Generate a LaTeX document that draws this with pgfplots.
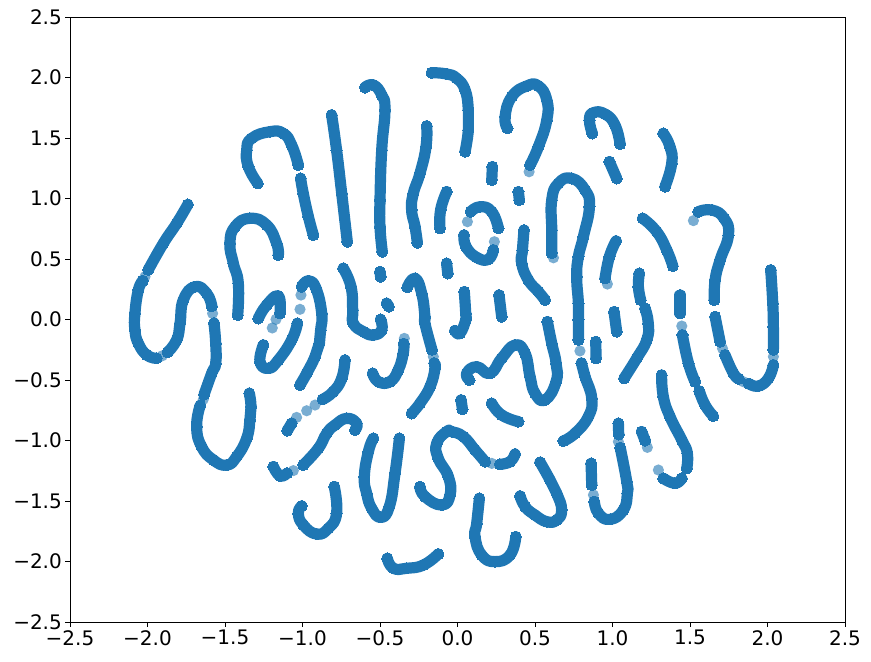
\documentclass[border=0pt]{standalone}
\usepackage{pgfplots}
\pgfplotsset{compat=1.18}
\usepackage{fontspec}
\setmainfont{DejaVu Sans}
\definecolor{c0}{HTML}{1F77B4}
\begin{document}
\begin{tikzpicture}
\begin{axis}[
  scale only axis, width=581.25pt, height=453.75pt,
  xmin=-2.5, xmax=2.5, ymin=-2.5, ymax=2.5,
  xtick={-2.5,-2,-1.5,-1,-0.5,0,0.5,1,1.5,2,2.5},
  ytick={-2.5,-2,-1.5,-1,-0.5,0,0.5,1,1.5,2,2.5},
  xticklabels={−2.5,−2.0,−1.5,−1.0,−0.5,0.0,0.5,1.0,1.5,2.0,2.5},
  yticklabels={−2.5,−2.0,−1.5,−1.0,−0.5,0.0,0.5,1.0,1.5,2.0,2.5},
  tick align=outside, tick pos=left, major tick length=3.6pt,
  tick style={black, line width=0.6pt}, axis line style={line width=0.6pt},
  ticklabel style={font=\fontsize{15}{15}\selectfont},
  xticklabel style={yshift=1pt}, yticklabel style={xshift=1pt},
  s/.style={color=c0, line width=8.4pt, line cap=round, line join=round, smooth, tension=0.85,
    mark=*, mark size=4.2pt, mark options={line width=0pt, draw=c0, fill=c0}},
  d/.style={only marks, mark=*, mark size=4.2pt, mark options={line width=0pt, draw opacity=0, fill=c0, fill opacity=0.6}},
]
% left side
\addplot[s] coordinates {(-1.74,0.95)(-1.812,0.794)(-1.898,0.629)(-1.995,0.41)};
\addplot[s] coordinates {(-2.03,0.32)(-2.059,0.244)(-2.081,0.051)(-2.081,-0.087)(-2.059,-0.197)(-2.005,-0.293)(-1.941,-0.321)};
\addplot[s] coordinates {(-1.87,-0.27)(-1.812,-0.169)(-1.79,-0.032)(-1.769,0.161)(-1.694,0.271)(-1.618,0.216)(-1.585,0.11)};
\addplot[s] coordinates {(-1.571,-0.03)(-1.56,-0.197)(-1.56,-0.362)(-1.586,-0.445)(-1.635,-0.62)};
\addplot[s] coordinates {(-1.66,-0.71)(-1.683,-0.886)(-1.651,-1.051)(-1.575,-1.161)(-1.489,-1.203)(-1.425,-1.134)(-1.36,-0.982)(-1.339,-0.83)(-1.332,-0.72)(-1.343,-0.61)};
\addplot[s] coordinates {(-1.156,0.533)(-1.167,0.629)(-1.231,0.781)(-1.339,0.836)(-1.435,0.767)(-1.468,0.629)(-1.446,0.464)(-1.414,0.299)(-1.418,0.037)};
\addplot[s] coordinates {(-1.289,1.125)(-1.349,1.263)(-1.36,1.40)(-1.328,1.497)(-1.21,1.552)(-1.124,1.538)(-1.07,1.442)(-1.027,1.277)};
\addplot[s] coordinates {(-1.012,1.166)(-0.995,1.042)(-0.962,0.85)(-0.93,0.698)};
\addplot[s] coordinates {(-0.812,1.69)(-0.78,1.40)(-0.747,1.042)(-0.711,0.643)};
\addplot[s] coordinates {(-0.597,1.918)(-0.543,1.938)(-0.489,1.855)(-0.468,1.731)(-0.489,1.40)(-0.5,0.987)(-0.5,0.767)(-0.485,0.56)};
\addplot[s] coordinates {(-0.199,1.599)(-0.203,1.428)(-0.242,1.208)(-0.285,1.042)(-0.296,0.905)(-0.274,0.767)(-0.259,0.635)};
\addplot[s] coordinates {(-0.07,1.056)(-0.109,0.905)(-0.113,0.753)};
\addplot[s] coordinates {(-0.167,2.04)(-0.07,2.029)(-0.005,1.993)(0.049,1.896)(0.07,1.731)(0.07,1.566)(0.049,1.387)};
\addplot[s] coordinates {(-0.5,0.395)(-0.496,0.354)};
\addplot[s] coordinates {(-0.457,0.134)(-0.443,0.107)};
\addplot[s] coordinates {(-0.07,0.464)(-0.063,0.381)};
\addplot[s] coordinates {(-0.737,0.423)(-0.687,0.271)(-0.676,0.078)(-0.672,-0.032)(-0.608,-0.1)(-0.543,-0.128)(-0.489,-0.087)(-0.496,0.0)};
\addplot[s] coordinates {(-0.324,0.266)(-0.274,0.34)(-0.231,0.216)(-0.21,0.023)(-0.21,-0.032)(-0.165,-0.25)};
\addplot[s] coordinates {(-0.15,-0.36)(-0.145,-0.404)(-0.177,-0.555)(-0.242,-0.693)(-0.296,-0.776)};
\addplot[s] coordinates {(-1.005,0.271)(-0.962,0.32)(-0.913,0.257)(-0.876,0.051)(-0.883,-0.087)(-0.891,-0.197)(-0.919,-0.307)(-0.973,-0.445)(-1.016,-0.541)};
\addplot[s] coordinates {(-1.285,0.009)(-1.231,0.12)(-1.156,0.194)(-1.145,0.051)};
\addplot[s] coordinates {(-1.033,-0.032)(-1.07,-0.169)(-1.156,-0.335)(-1.22,-0.404)(-1.274,-0.349)(-1.253,-0.211)};
\addplot[s] coordinates {(-0.726,-0.335)(-0.747,-0.486)(-0.801,-0.596)(-0.87,-0.66)};
\addplot[s] coordinates {(-1.07,-0.858)(-1.098,-0.918)};
\addplot[s] coordinates {(-0.661,-0.913)(-0.651,-0.858)(-0.715,-0.817)(-0.79,-0.872)(-0.844,-0.941)(-0.898,-1.065)(-0.995,-1.202)};
\addplot[s] coordinates {(-1.10,-1.27)(-1.145,-1.293)(-1.188,-1.216)};
\addplot[s] coordinates {(-0.543,-0.982)(-0.575,-1.092)(-0.601,-1.299)(-0.586,-1.437)(-0.554,-1.56)(-0.496,-1.635)(-0.44,-1.547)(-0.403,-1.271)(-0.375,-0.982)};
\addplot[s] coordinates {(-0.795,-1.381)(-0.78,-1.602)(-0.833,-1.726)(-0.909,-1.773)(-0.995,-1.698)(-1.027,-1.602)(-1.005,-1.541)};
\addplot[s] coordinates {(-0.453,-1.974)(-0.414,-2.056)(-0.328,-2.056)(-0.22,-2.029)(-0.124,-1.938)};
\addplot[s] coordinates {(-0.242,-1.382)(-0.21,-1.464)(-0.102,-1.533)(-0.048,-1.45)(-0.059,-1.299)(-0.124,-1.147)(-0.134,-1.023)(-0.07,-0.927)(-0.037,-0.927)(0.038,-0.968)(0.113,-1.078)(0.178,-1.175)};
\addplot[s] coordinates {(0.274,-1.197)(0.339,-1.175)(0.371,-1.112)};
\addplot[s] coordinates {(-0.347,-0.20)(-0.35,-0.28)(-0.382,-0.417)(-0.436,-0.514)(-0.511,-0.514)(-0.547,-0.445)};
\addplot[s] coordinates {(0.023,-0.665)(0.032,-0.742)};
\addplot[s] coordinates {(0.044,0.23)(0.053,0.051)(0.053,-0.004)(0.016,-0.114)(-0.016,-0.092)};
% right side
\addplot[s] coordinates {(0.322,1.58)(0.307,1.676)(0.35,1.841)(0.447,1.93)(0.522,1.93)(0.576,1.814)(0.576,1.648)(0.522,1.428)(0.468,1.277)};
\addplot[s] coordinates {(0.87,1.538)(0.851,1.648)(0.877,1.709)(0.952,1.698)(1.016,1.607)(1.049,1.45)};
\addplot[s] coordinates {(0.98,1.304)(1.027,1.166)};
\addplot[s] coordinates {(1.328,1.538)(1.371,1.428)(1.382,1.29)(1.339,1.098)};
\addplot[s] coordinates {(0.225,1.263)(0.221,1.153)};
\addplot[s] coordinates {(0.393,1.056)(0.399,0.987)};
\addplot[s] coordinates {(0.264,0.753)(0.221,0.891)(0.146,0.932)(0.085,0.891)};
\addplot[s] coordinates {(0.042,0.698)(0.055,0.602)(0.124,0.513)(0.199,0.497)(0.231,0.574)};
\addplot[s] coordinates {(0.429,0.739)(0.419,0.574)(0.414,0.464)(0.457,0.326)(0.522,0.23)(0.565,0.161)};
\addplot[s] coordinates {(0.608,0.55)(0.608,0.739)(0.608,0.987)(0.651,1.125)(0.737,1.166)(0.823,1.07)(0.851,0.932)(0.812,0.684)(0.78,0.519)(0.769,0.354)(0.78,0.133)(0.78,-0.004)(0.78,-0.169)};
\addplot[s] coordinates {(0.80,-0.36)(0.823,-0.472)(0.866,-0.652)(0.844,-0.803)(0.758,-0.941)(0.683,-1.004)};
\addplot[s] coordinates {(1.023,0.649)(0.98,0.519)(0.952,0.34)};
\addplot[s] coordinates {(1.195,0.836)(1.285,0.726)(1.35,0.574)(1.389,0.442)};
\addplot[s] coordinates {(1.554,0.891)(1.64,0.905)(1.72,0.836)(1.748,0.698)(1.694,0.491)(1.662,0.326)(1.657,0.161)};
\addplot[s] coordinates {(1.173,0.381)(1.167,0.271)(1.182,0.161)};
\addplot[s] coordinates {(1.436,0.202)(1.436,0.051)};
\addplot[s] coordinates {(1.21,0.092)(1.231,-0.032)(1.221,-0.169)(1.156,-0.321)(1.075,-0.486)};
\addplot[s] coordinates {(1.01,0.064)(1.027,-0.1)};
\addplot[s] coordinates {(0.58,-0.018)(0.608,-0.197)(0.636,-0.362)(0.636,-0.514)(0.565,-0.665)(0.5,-0.61)(0.468,-0.472)(0.436,-0.28)(0.371,-0.211)(0.285,-0.32)(0.21,-0.445)(0.124,-0.39)(0.059,-0.445)(0.077,-0.5)};
\addplot[s] coordinates {(0.892,-0.183)(0.894,-0.321)};
\addplot[s] coordinates {(0.221,-0.693)(0.285,-0.789)(0.393,-0.844)};
\addplot[s] coordinates {(0.533,-1.18)(0.597,-1.326)(0.64,-1.437)(0.672,-1.574)(0.64,-1.657)(0.576,-1.671)(0.5,-1.616)(0.436,-1.547)(0.404,-1.459)};
\addplot[s] coordinates {(0.141,-1.478)(0.124,-1.685)(0.113,-1.795)(0.156,-1.946)(0.242,-2.001)(0.339,-1.946)(0.376,-1.795)};
\addplot[s] coordinates {(0.862,-1.189)(0.866,-1.368)};
\addplot[s] coordinates {(0.883,-1.505)(0.909,-1.602)(0.984,-1.652)(1.07,-1.574)(1.096,-1.437)(1.092,-1.34)(1.05,-1.06)};
\addplot[s] coordinates {(1.038,-0.858)(1.04,-0.95)};
\addplot[s] coordinates {(1.188,-0.927)(1.21,-1.0)};
\addplot[s] coordinates {(1.328,-1.313)(1.403,-1.354)(1.447,-1.313)};
\addplot[s] coordinates {(1.317,-0.459)(1.328,-0.638)(1.371,-0.803)(1.447,-0.996)(1.483,-1.106)(1.479,-1.23)};
\addplot[s] coordinates {(1.451,-0.128)(1.49,-0.362)(1.533,-0.514)};
\addplot[s] coordinates {(1.56,-0.591)(1.597,-0.707)(1.65,-0.798)};
\addplot[s] coordinates {(1.662,0.023)(1.694,-0.183)};
\addplot[s] coordinates {(1.726,-0.293)(1.78,-0.445)(1.815,-0.49)};
\addplot[s] coordinates {(1.88,-0.53)(1.941,-0.55)(2.006,-0.486)(2.038,-0.376)};
\addplot[s] coordinates {(2.021,0.409)(2.034,0.133)(2.038,-0.059)(2.038,-0.25)};
\addplot[s] coordinates {(0.268,0.202)(0.285,0.023)};
% the paler points, single or nearly so
\addplot[d] coordinates {(-2.016,0.354)(-1.58,0.05)(-1.64,-0.66)(-1.01,0.202)(-1.171,0.001)(-1.195,-0.07)(-1.016,0.084)(-0.919,-0.707)(-0.973,-0.754)(-1.038,-0.809)(-1.059,-1.249)(-0.156,-0.307)(-0.343,-0.156)(0.221,-1.189)(0.462,1.221)(0.967,0.293)(1.447,-0.054)(1.225,-1.057)(1.038,-1.01)(0.877,-1.45)(1.296,-1.244)(2.038,-0.307)(0.238,0.643)(0.064,0.808)(1.522,0.817)(1.844,-0.514)(1.71,-0.24)(0.79,-0.26)(-1.905,-0.30)(0.619,0.51)};
\end{axis}
\path[use as bounding box] (-52.5pt,-29.25pt) rectangle (600.75pt,466.5pt);
\end{tikzpicture}
\end{document}
